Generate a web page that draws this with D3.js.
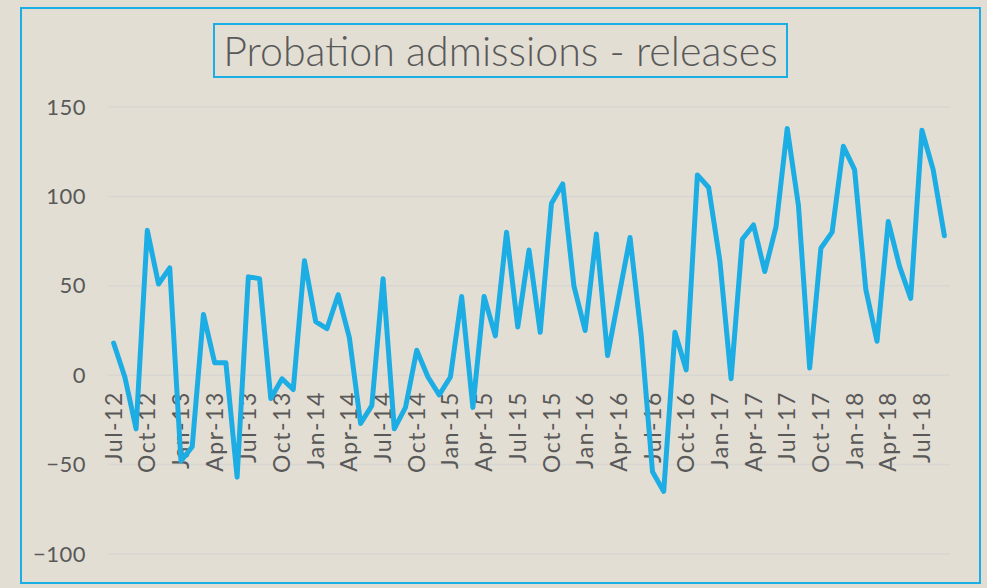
<!DOCTYPE html>
<html>
<head>
<meta charset="utf-8">
<script src="https://cdn.jsdelivr.net/npm/d3@7"></script>
<style>
  html, body { margin: 0; padding: 0; background: #E3DED3; }
  svg { display: block; }
  text { font-family: "Lato", "DejaVu Sans", sans-serif; fill: #595959; }
</style>
</head>
<body>
<div id="chart"></div>
<script>
const WIDTH = 987
const HEIGHT = 588

// monthly categories, Jul-12 .. Sep-18
const MONTH_NAMES = ['Jan', 'Feb', 'Mar', 'Apr', 'May', 'Jun', 'Jul', 'Aug', 'Sep', 'Oct', 'Nov', 'Dec']
const months = []
for (let i = 0; i < 75; i++) {
  const m = (6 + i) % 12
  const yr = 12 + Math.floor((6 + i) / 12)
  months.push(MONTH_NAMES[m] + '-' + yr)
}

// admissions minus releases
const values = [
  18, -1, -30, 81, 51, 60, -48, -40, 34, 7, 7, -57,
  55, 54, -13, -2, -8, 64, 30, 26, 45, 21, -27, -17,
  54, -30, -18, 14, -1, -11, -1, 44, -18, 44, 22, 80,
  27, 70, 24, 96, 107, 50, 25, 79, 11, 44, 77, 22,
  -54, -65, 24, 3, 112, 105, 64, -2, 76, 84, 58, 83,
  138, 95, 4, 71, 80, 128, 115, 48, 19, 86, 61, 43,
  137, 115, 78
]

const yTicks = [-100, -50, 0, 50, 100, 150]
const TITLE = 'Probation admissions - releases'

const svg = d3.select('#chart')
  .append('svg')
  .attr('width', WIDTH)
  .attr('height', HEIGHT)

svg.append('rect')
  .attr('width', WIDTH).attr('height', HEIGHT)
  .attr('fill', '#E3DED3')

// outer frame
svg.append('rect')
  .attr('x', 21).attr('y', 8)
  .attr('width', 959).attr('height', 575)
  .attr('fill', 'none')
  .attr('stroke', '#1BAEE5')
  .attr('stroke-width', 2)

const x = d3.scaleBand().domain(months).range([108, 950])
const y = d3.scaleLinear().domain([-100, 150]).range([554, 107])

// gridlines
svg.append('g')
  .selectAll('line')
  .data(yTicks)
  .enter()
  .append('line')
  .attr('x1', 108).attr('x2', 950)
  .attr('y1', (d) => y(d)).attr('y2', (d) => y(d))
  .attr('stroke', '#D8D6D2')
  .attr('stroke-width', 1.5)

// y axis labels
const yAxis = svg.append('g')
  .attr('transform', 'translate(86,0)')
  .call(d3.axisLeft(y).tickValues(yTicks).tickSize(0).tickPadding(0))
yAxis.select('.domain').remove()
yAxis.selectAll('text')
  .attr('font-size', 22)
  .attr('fill', '#595959')
  .style('font-family', '"Lato", "DejaVu Sans", sans-serif')
  .style('letter-spacing', '0.5px')

// x axis labels, every third month, rotated
const xAxis = svg.append('g')
  .attr('transform', `translate(0,${y(0)})`)
  .call(d3.axisBottom(x)
    .tickValues(months.filter((d, i) => i % 3 === 0))
    .tickSize(0).tickPadding(0))
xAxis.select('.domain').remove()
xAxis.selectAll('text')
  .attr('font-size', 23)
  .attr('fill', '#595959')
  .style('font-family', '"Lato", "DejaVu Sans", sans-serif')
  .style('letter-spacing', '1.5px')
  .attr('text-anchor', 'end')
  .attr('transform', 'rotate(-90)')
  .attr('x', -16)
  .attr('y', 0)
  .attr('dy', '0.35em')

// data line
const line = d3.line()
  .x((d, i) => x(months[i]) + x.bandwidth() / 2)
  .y((d) => y(d))

svg.append('path')
  .datum(values)
  .attr('d', line)
  .attr('fill', 'none')
  .attr('stroke', '#1CADE4')
  .attr('stroke-width', 5)
  .attr('stroke-linejoin', 'round')
  .attr('stroke-linecap', 'round')

// title with box
svg.append('rect')
  .attr('x', 214).attr('y', 24)
  .attr('width', 573).attr('height', 53)
  .attr('fill', 'none')
  .attr('stroke', '#1BAEE5')
  .attr('stroke-width', 2)

const title = svg.append('text')
  .attr('x', 500.5).attr('y', 66)
  .attr('text-anchor', 'middle')
  .attr('font-size', 35)
  .style('font-weight', 300)
  .text(TITLE)

// squeeze the fallback font into the title width of the original
const tw = title.node().getComputedTextLength()
title.attr('font-size', 35 * 555 / tw)
</script>
</body>
</html>
